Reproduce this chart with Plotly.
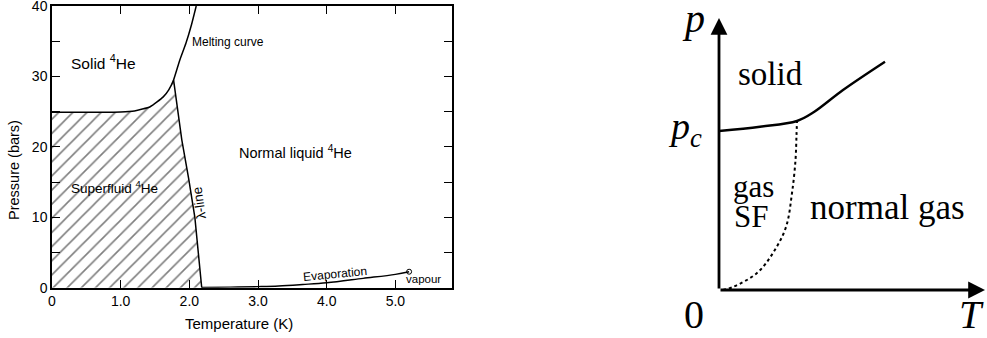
import plotly.graph_objects as go

W, H = 987, 338

# ---------------- left panel data (He-4 phase diagram) ----------------
melt_T = [0.0, 0.5, 1.0, 1.2, 1.43, 1.62, 1.70, 1.77, 1.86, 1.95, 2.03, 2.10]
melt_P = [24.9, 24.9, 24.95, 25.1, 25.7, 27.1, 28.1, 29.5, 32.3, 34.7, 37.3, 40.0]
lam_T = [1.77, 1.89, 1.99, 2.08, 2.18]
lam_P = [29.5, 21.0, 15.5, 10.0, 0.0]
evap_T = [2.18, 2.6, 3.0, 3.3, 3.65, 4.0, 4.53, 5.0, 5.2]
evap_P = [0.03, 0.08, 0.15, 0.24, 0.45, 0.7, 1.33, 1.9, 2.27]
crit_T = [5.2]
crit_P = [2.27]
x_ticks = [0, 1, 2, 3, 4, 5]
x_ticktext = ["0", "1.0", "2.0", "3.0", "4.0", "5.0"]
y_ticks = [0, 10, 20, 30, 40]
y_ticktext = ["0", "10", "20", "30", "40"]
y_minor_step = 5

# ---------------- right panel data (schematic) ----------------
solid_T = [0.0, 0.41, 0.78, 0.95, 1.24, 1.66]
solid_p = [1.59, 1.633, 1.69, 1.78, 2.00, 2.283]
sf_T = [0.04, 0.14, 0.38, 0.54, 0.67, 0.73, 0.765, 0.775, 0.78]
sf_p = [0.0, 0.03, 0.17, 0.37, 0.63, 0.97, 1.30, 1.55, 1.69]
T_max, p_max = 2.66, 2.72

SANS = "Liberation Sans"
SERIF = "Liberation Serif"

fig = go.Figure()

# hatched superfluid region
hatch_T = [0.0] + [t for t in melt_T if t <= 1.77] + lam_T[1:] + [0.0]
hatch_P = [0.0] + [p for t, p in zip(melt_T, melt_P) if t <= 1.77] + lam_P[1:] + [0.0]
fig.add_trace(go.Scatter(x=hatch_T, y=hatch_P, mode="none", fill="toself",
                         fillcolor="white",
                         fillpattern=dict(shape="/", fgcolor="black", bgcolor="white",
                                          size=10, solidity=0.16),
                         xaxis="x", yaxis="y", hoverinfo="skip"))
fig.add_trace(go.Scatter(x=melt_T, y=melt_P, mode="lines",
                         line=dict(color="black", width=1.5, shape="spline", smoothing=0.5),
                         xaxis="x", yaxis="y"))
fig.add_trace(go.Scatter(x=lam_T, y=lam_P, mode="lines",
                         line=dict(color="black", width=1.5),
                         xaxis="x", yaxis="y"))
fig.add_trace(go.Scatter(x=evap_T, y=evap_P, mode="lines",
                         line=dict(color="black", width=1.4, shape="spline"),
                         xaxis="x", yaxis="y"))
fig.add_trace(go.Scatter(x=crit_T, y=crit_P, mode="markers",
                         marker=dict(symbol="circle-open", size=5, color="black",
                                     line=dict(width=1)),
                         xaxis="x", yaxis="y"))

# right schematic
fig.add_trace(go.Scatter(x=solid_T, y=solid_p, mode="lines",
                         line=dict(color="black", width=2.4, shape="spline"),
                         xaxis="x2", yaxis="y2", cliponaxis=False))
fig.add_trace(go.Scatter(x=sf_T, y=sf_p, mode="lines",
                         line=dict(color="black", width=2, dash="3px,3px", shape="spline"),
                         xaxis="x2", yaxis="y2", cliponaxis=False))

axis_common = dict(showline=True, linecolor="black", linewidth=1.5, mirror="ticks",
                   ticks="inside", ticklen=8, tickwidth=1.3, tickcolor="black",
                   showgrid=False, zeroline=False, automargin=False,
                   ticklabeloverflow="allow",
                   tickfont=dict(family=SANS, size=14, color="black"))

fig.update_layout(
    width=W, height=H,
    margin=dict(l=0, r=0, t=0, b=0, autoexpand=False),
    paper_bgcolor="white", plot_bgcolor="white",
    showlegend=False,
    xaxis=dict(domain=[52 / W, 451.7 / W], range=[0, 5.82],
               tickvals=x_ticks, ticktext=x_ticktext, **axis_common),
    yaxis=dict(domain=[1 - 287.7 / H, 1 - 6 / H], range=[0, 40],
               tickvals=y_ticks, ticktext=y_ticktext,
               minor=dict(dtick=y_minor_step, tick0=0, ticks="inside", ticklen=8,
                          tickwidth=1.3, tickcolor="black", showgrid=False),
               **axis_common),
    xaxis2=dict(domain=[719 / W, 1.0], range=[0, 2.68], visible=False, automargin=False),
    yaxis2=dict(domain=[1 - 290 / H, 1 - 18 / H], range=[0, p_max], visible=False,
                automargin=False),
)

ann = []
def lab(text, x, y, size, xanchor="center", angle=0, family=SANS, xref="x", yref="y",
        align="center"):
    ann.append(dict(text=text, x=x, y=y, xref=xref, yref=yref, showarrow=False,
                    xanchor=xanchor, yanchor="middle", textangle=angle, align=align,
                    font=dict(family=family, size=size, color="black")))

lab("Solid <sup>4</sup>He", 0.757, 32.0, 15.5)
lab("Melting curve", 2.01, 34.9, 12, xanchor="left")
lab("Normal liquid <sup>4</sup>He", 2.69, 19.3, 14.5, xanchor="left")
lab("Superfluid <sup>4</sup>He", 0.25, 14.3, 13.5, xanchor="left")
lab("λ-line", 2.14, 12.0, 13.5, angle=-98)
lab("Evaporation", 4.12, 2.0, 12, angle=-5.5)
lab("vapour", 5.41, 1.3, 11.5)
lab("Pressure (bars)", 14 / W, 1 - 170 / H, 14.5, angle=-90, xref="paper", yref="paper")
lab("Temperature (K)", 239 / W, 1 - 323 / H, 15, xref="paper", yref="paper")

# right panel texts
def rlab(text, px, py, size, xanchor="center", align="center"):
    lab(text, px / W, 1 - py / H, size, xanchor=xanchor, family=SERIF,
        xref="paper", yref="paper", align=align)

rlab("<i>p</i>", 693, 18, 40)
rlab("<i>p</i><sub><i>c</i></sub>", 685, 129, 38)
rlab("solid", 770, 74, 33)
rlab("gas", 731, 186, 31, xanchor="left")
rlab("SF", 732, 217, 31, xanchor="left")
rlab("normal gas", 887, 207, 35)
rlab("0", 694, 314, 40)
rlab("<i>T</i>", 986, 314, 40, xanchor="right")

# axis arrows of schematic
for (x, y) in [(T_max, 0.0), (0.0, p_max)]:
    ann.append(dict(x=x, y=y, ax=0.0, ay=0.0, xref="x2", yref="y2", axref="x2", ayref="y2",
                    showarrow=True, arrowhead=2, arrowsize=1.2, arrowwidth=2.8,
                    arrowcolor="black", text="", standoff=0))

fig.update_layout(annotations=ann)
fig.write_html("out.html", config={"displayModeBar": False},
               post_script="document.body.style.margin='0px';document.body.style.overflow='hidden';")
